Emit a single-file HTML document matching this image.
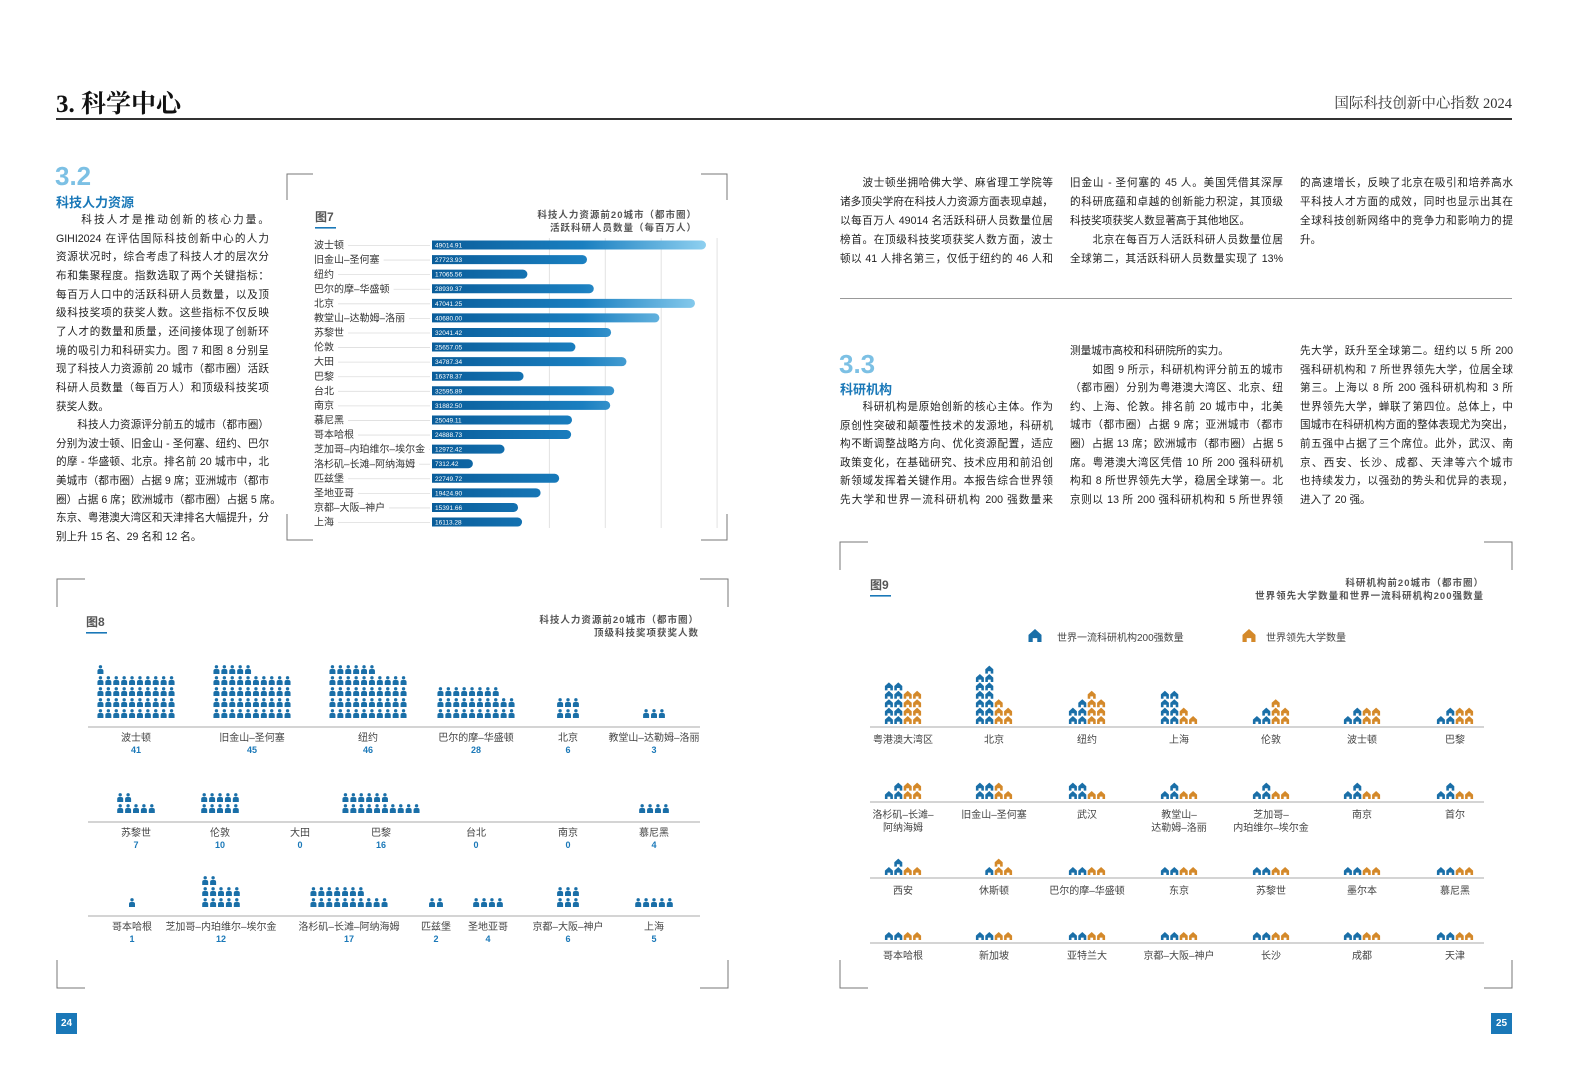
<!DOCTYPE html>
<html><head><meta charset="utf-8">
<style>
html,body{margin:0;padding:0;background:#fff;}
body{width:1586px;height:1076px;position:relative;overflow:hidden;font-family:"Liberation Sans","Noto Sans CJK SC",sans-serif;color:#222;}
.ln{position:absolute;width:213px;font-size:10.6px;line-height:14px;text-align:justify;text-align-last:justify;white-space:nowrap;color:#222;}
.ln.last{text-align-last:left;}
.abs{position:absolute;}
svg text{font-family:"Liberation Sans","Noto Sans CJK SC",sans-serif;}
</style></head>
<body>
<div class="abs" style="left:56px;top:84px;font-size:25px;font-weight:bold;font-family:'Liberation Serif','Noto Serif CJK SC',serif;color:#111;">3. 科学中心</div>
<div class="abs" style="right:74px;top:92px;font-size:14.5px;font-family:'Liberation Serif','Noto Serif CJK SC',serif;color:#333;">国际科技创新中心指数 2024</div>
<div class="abs" style="left:56px;top:118px;width:1456px;height:1.5px;background:#333;"></div>

<div class="abs" style="left:55px;top:161px;font-size:26px;font-weight:bold;color:#7cc0e4;">3.2</div>
<div class="abs" style="left:56px;top:192px;font-size:13px;font-weight:bold;color:#1a78b8;">科技人力资源</div>

<div class="abs" style="left:839px;top:349px;font-size:26px;font-weight:bold;color:#7cc0e4;">3.3</div>
<div class="abs" style="left:840px;top:379px;font-size:13px;font-weight:bold;color:#1a78b8;">科研机构</div>

<div class="abs" style="left:840px;top:298px;width:672px;height:1px;background:#999;"></div>

<div class="abs" style="left:56px;top:1013px;width:21px;height:21px;background:#1a78b8;color:#fff;font-size:10px;font-weight:bold;text-align:center;line-height:21px;">24</div>
<div class="abs" style="left:1491px;top:1013px;width:21px;height:21px;background:#1a78b8;color:#fff;font-size:10px;font-weight:bold;text-align:center;line-height:21px;">25</div>

<div id="texts"></div>

<svg id="chart" width="1586" height="1076" style="position:absolute;left:0;top:0;" xmlns="http://www.w3.org/2000/svg">
<defs>
<linearGradient id="barGrad" gradientUnits="userSpaceOnUse" x1="432" y1="0" x2="706" y2="0">
<stop offset="0" stop-color="#0a5d9a"/><stop offset="0.55" stop-color="#1a7fc0"/><stop offset="1" stop-color="#8ed0f0"/>
</linearGradient>
</defs>
</svg>

<script>
// ===== Figure 7 data =====
const cities7 = ['波士顿','旧金山–圣何塞','纽约','巴尔的摩–华盛顿','北京','教堂山–达勒姆–洛丽','苏黎世','伦敦','大田','巴黎','台北','南京','慕尼黑','哥本哈根','芝加哥–内珀维尔–埃尔金','洛杉矶–长滩–阿纳海姆','匹兹堡','圣地亚哥','京都–大阪–神户','上海'];
const values7 = [49014.91,27723.93,17065.56,28939.37,47041.25,40680.00,32041.42,25657.05,34787.34,16378.37,32595.89,31882.50,25049.11,24888.73,12972.42,7312.42,22749.72,19424.90,15391.66,16113.28];
const labels7 = ['49014.91','27723.93','17065.56','28939.37','47041.25','40680.00','32041.42','25657.05','34787.34','16378.37','32595.89','31882.50','25049.11','24888.73','12972.42','7312.42','22749.72','19424.90','15391.66','16113.28'];
const grid7 = [21000,31000,41000,51000];

// ===== Figure 8 data =====
const cities8 = ['波士顿','旧金山–圣何塞','纽约','巴尔的摩–华盛顿','北京','教堂山–达勒姆–洛丽','苏黎世','伦敦','大田','巴黎','台北','南京','慕尼黑','哥本哈根','芝加哥–内珀维尔–埃尔金','洛杉矶–长滩–阿纳海姆','匹兹堡','圣地亚哥','京都–大阪–神户','上海'];
const values8 = [41,45,46,28,6,3,7,10,0,16,0,0,4,1,12,17,2,4,6,5];

// ===== Figure 9 data =====
const cities9 = ['粤港澳大湾区','北京','纽约','上海','伦敦','波士顿','巴黎','洛杉矶–长滩–|阿纳海姆','旧金山–圣何塞','武汉','教堂山–|达勒姆–洛丽','芝加哥–|内珀维尔–埃尔金','南京','首尔','西安','休斯顿','巴尔的摩–华盛顿','东京','苏黎世','墨尔本','慕尼黑','哥本哈根','新加坡','亚特兰大','京都–大阪–神户','长沙','成都','天津'];
const institutes9 = [10,13,5,8,3,3,3,3,4,4,3,3,3,3,3,1,2,2,2,2,2,2,2,2,2,2,2,2];
const universities9 = [8,5,7,3,5,4,4,4,3,2,2,2,2,2,2,3,2,2,2,2,2,2,2,2,2,2,2,2];

const NS='http://www.w3.org/2000/svg';
const svg=document.getElementById('chart');
function el(tag,attrs,parent){const e=document.createElementNS(NS,tag);for(const k in attrs)e.setAttribute(k,attrs[k]);(parent||svg).appendChild(e);return e;}
function txt(s,attrs,parent){const t=el('text',attrs,parent);t.textContent=s;return t;}

// ---- frame corner brackets ----
function frame(x1,y1,x2,y2,L,name){
  const g=el('g',{});
  
  
  const st={stroke:'#777','stroke-width':1,fill:'none'};
  el('path',Object.assign({d:`M${x1} ${y1+L}V${y1}H${x1+L}`},st),g);
  el('path',Object.assign({d:`M${x2-L} ${y1}H${x2}V${y1+L}`},st),g);
  el('path',Object.assign({d:`M${x1} ${y2-L}V${y2}H${x1+L}`},st),g);
  el('path',Object.assign({d:`M${x2-L} ${y2}H${x2}V${y2-L}`},st),g);
}
frame(287,174,727,540,26,'figure7-frame');
frame(57,579,728,988,28,'figure8-frame');
frame(840,542,1512,988,28,'figure9-frame');

function figHead(x,y,label,rx,lines,name){
  const g=el('g',{});
  
  
  txt(label,{x:x,y:y,'font-size':12,'font-weight':'bold',fill:'#555'},g);
  el('rect',{x:x,y:y+6,width:21,height:1.6,fill:'#1a78b8'},g);
  lines.forEach((l,i)=>txt(l,{x:rx,y:y-3+i*13,'font-size':9.5,'font-weight':'bold',fill:'#555','text-anchor':'end','letter-spacing':1},g));
}
figHead(315,221,'图7',697,['科技人力资源前20城市（都市圈）','活跃科研人员数量（每百万人）'],'figure7-title');
figHead(86,626,'图8',699,['科技人力资源前20城市（都市圈）','顶级科技奖项获奖人数'],'figure8-title');
figHead(870,589,'图9',1484,['科研机构前20城市（都市圈）','世界领先大学数量和世界一流科研机构200强数量'],'figure9-title');

// ===== Figure 7 =====
const x7=v=>432+v/49014.91*274;
const y7=i=>245+i*14.58;
grid7.forEach(v=>{
  const l=el('line',{x1:x7(v),x2:x7(v),y1:238,y2:528,stroke:'#e2e2e2','stroke-width':1});
  
  
});
cities7.forEach((c,i)=>{
  const cy=y7(i);
  const t=txt(c,{x:314,y:cy+3.6,'font-size':10,fill:'#333'});
  
  
  const w=t.getComputedTextLength();
  const ld=el('line',{x1:314+w+4,x2:430,y1:cy+0.5,y2:cy+0.5,stroke:'#ddd','stroke-width':0.8});
  
  
  const xe=x7(values7[i]);const h=9,r=4.5;
  const b=el('path',{d:`M432 ${cy-r}H${xe-r}A${r} ${r} 0 0 1 ${xe-r} ${cy+r}H432Z`,fill:'url(#barGrad)'});
  
  
  const vt=txt(labels7[i],{x:435,y:cy+2.5,'font-size':6.5,fill:'#fff'});
  
  
});

// ===== Figure 8 =====
const centers8=[136,252,368,476,568,654, 136,220,300,381,476,568,654, 132,221,349,436,488,568,654];
const rowOf8=[0,0,0,0,0,0,1,1,1,1,1,1,1,2,2,2,2,2,2,2];
const base8=[727,822,916];
base8.forEach(b=>{
  const l=el('line',{x1:88,x2:700,y1:b,y2:b,stroke:'#aaa','stroke-width':1});
  
  
});
function person(g,x,y){ // x center, y bottom
  el('circle',{cx:x,cy:y-7.2,r:1.7,fill:'#1a6fa8'},g);
  el('path',{d:`M${x-3} ${y}V${y-3}Q${x-3} ${y-5} ${x-1} ${y-5}H${x+1}Q${x+3} ${y-5} ${x+3} ${y-3}V${y}Z`,fill:'#1a6fa8'},g);
}
cities8.forEach((c,i)=>{
  const n=values8[i];const b=base8[rowOf8[i]];const cx=centers8[i];
  const cols=n>=13?10:(n>=7?5:(n===6?3:Math.max(n,1)));
  const px=7.9,py=11;
  const g=el('g',{});
  
  
  const left=cx-(cols-1)*px/2;
  for(let k=0;k<n;k++){const r=Math.floor(k/cols),col=k%cols;person(g,left+col*px,b-9-r*py);}
  const t=txt(c,{x:cx,y:b+14,'font-size':10,fill:'#444','text-anchor':'middle'});
  
  
  const v=txt(String(n),{x:cx,y:b+26,'font-size':9,'font-weight':'bold',fill:'#1a78b8','text-anchor':'middle'});
  
  
});

// ===== Figure 9 =====
const BLUE='#1a6fa8',ORANGE='#d4892a';
function house(g,x,y,s,col){ // x center, y bottom
  const h=s/2;
  el('path',{d:`M${x-h} ${y}V${y-s*0.55}L${x} ${y-s}L${x+h} ${y-s*0.55}V${y}H${x+h*0.35}V${y-s*0.3}H${x-h*0.35}V${y}Z`,fill:col},g);
}
// legend
const lg=el('g',{});


house(lg,1035,642,13,BLUE);
txt('世界一流科研机构200强数量',{x:1057,y:641,'font-size':10,fill:'#444'},lg);
house(lg,1249,642,13,ORANGE);
txt('世界领先大学数量',{x:1266,y:641,'font-size':10,fill:'#444'},lg);

const colX9=[903,994,1087,1179,1271,1362,1455];
const base9=[727,802,878,943];
base9.forEach(b=>{
  const l=el('line',{x1:870,x2:1484,y1:b,y2:b,stroke:'#aaa','stroke-width':1});
  
  
});
function stack(g,cx,b,n,c0,col){
  const px=9.4,py=8.4;const left=cx-1.5*px;
  for(let k=0;k<n;k++){
    const r=Math.floor(k/2);let c=k%2;
    if(k===n-1&&n%2===1) c=(col===BLUE?1:0);
    house(g,left+(c0+c)*px,b-3-r*py,8,col);
  }
}
cities9.forEach((c,i)=>{
  const row=Math.floor(i/7),cx=colX9[i%7],b=base9[row];
  const g=el('g',{});
  
  
  stack(g,cx,b,institutes9[i],0,BLUE);
  stack(g,cx,b,universities9[i],2,ORANGE);
  c.split('|').forEach((part,j)=>{
    const t=txt(part,{x:cx,y:b+16+j*13,'font-size':10,fill:'#444','text-anchor':'middle'});
    
    
  });
});

// ===== Body text =====
const texts=document.getElementById('texts');
function block(name,x,y,pitch,lines){
  lines.forEach((s,i)=>{
    const d=document.createElement('div');
    const last=s.startsWith('~');
    d.className=last?'ln last':'ln';
    d.textContent=last?s.slice(1):s;
    d.style.left=x+'px';d.style.top=(y+i*pitch-7)+'px';
    
    
    texts.appendChild(d);
  });
}
block('hr-body-text',56,220,18.65,[
'　　科技人才是推动创新的核心力量。',
'GIHI2024 在评估国际科技创新中心的人力',
'资源状况时，综合考虑了科技人才的层次分',
'布和集聚程度。指数选取了两个关键指标：',
'每百万人口中的活跃科研人员数量，以及顶',
'级科技奖项的获奖人数。这些指标不仅反映',
'了人才的数量和质量，还间接体现了创新环',
'境的吸引力和科研实力。图 7 和图 8 分别呈',
'现了科技人力资源前 20 城市（都市圈）活跃',
'科研人员数量（每百万人）和顶级科技奖项',
'~获奖人数。',
'　　科技人力资源评分前五的城市（都市圈）',
'分别为波士顿、旧金山 - 圣何塞、纽约、巴尔',
'的摩 - 华盛顿、北京。排名前 20 城市中，北',
'美城市（都市圈）占据 9 席；亚洲城市（都市',
'圈）占据 6 席；欧洲城市（都市圈）占据 5 席。',
'东京、粤港澳大湾区和天津排名大幅提升，分',
'~别上升 15 名、29 名和 12 名。']);
block('hr-analysis-text-col1',840,183,19,[
'　　波士顿坐拥哈佛大学、麻省理工学院等',
'诸多顶尖学府在科技人力资源方面表现卓越，',
'以每百万人 49014 名活跃科研人员数量位居',
'榜首。在顶级科技奖项获奖人数方面，波士',
'顿以 41 人排名第三，仅低于纽约的 46 人和']);
block('hr-analysis-text-col2',1070,183,19,[
'旧金山 - 圣何塞的 45 人。美国凭借其深厚',
'的科研底蕴和卓越的创新能力积淀，其顶级',
'~科技奖项获奖人数显著高于其他地区。',
'　　北京在每百万人活跃科研人员数量位居',
'全球第二，其活跃科研人员数量实现了 13%']);
block('hr-analysis-text-col3',1300,183,19,[
'的高速增长，反映了北京在吸引和培养高水',
'平科技人才方面的成效，同时也显示出其在',
'全球科技创新网络中的竞争力和影响力的提',
'~升。']);
block('ri-body-text-col1',840,407,18.6,[
'　　科研机构是原始创新的核心主体。作为',
'原创性突破和颠覆性技术的发源地，科研机',
'构不断调整战略方向、优化资源配置，适应',
'政策变化，在基础研究、技术应用和前沿创',
'新领域发挥着关键作用。本报告综合世界领',
'先大学和世界一流科研机构 200 强数量来']);
block('ri-body-text-col2',1070,351,18.6,[
'~测量城市高校和科研院所的实力。',
'　　如图 9 所示，科研机构评分前五的城市',
'（都市圈）分别为粤港澳大湾区、北京、纽',
'约、上海、伦敦。排名前 20 城市中，北美',
'城市（都市圈）占据 9 席；亚洲城市（都市',
'圈）占据 13 席；欧洲城市（都市圈）占据 5',
'席。粤港澳大湾区凭借 10 所 200 强科研机',
'构和 8 所世界领先大学，稳居全球第一。北',
'京则以 13 所 200 强科研机构和 5 所世界领']);
block('ri-body-text-col3',1300,351,18.6,[
'先大学，跃升至全球第二。纽约以 5 所 200',
'强科研机构和 7 所世界领先大学，位居全球',
'第三。上海以 8 所 200 强科研机构和 3 所',
'世界领先大学，蝉联了第四位。总体上，中',
'国城市在科研机构方面的整体表现尤为突出，',
'前五强中占据了三个席位。此外，武汉、南',
'京、西安、长沙、成都、天津等六个城市',
'也持续发力，以强劲的势头和优异的表现，',
'~进入了 20 强。']);
</script>
</body></html>
